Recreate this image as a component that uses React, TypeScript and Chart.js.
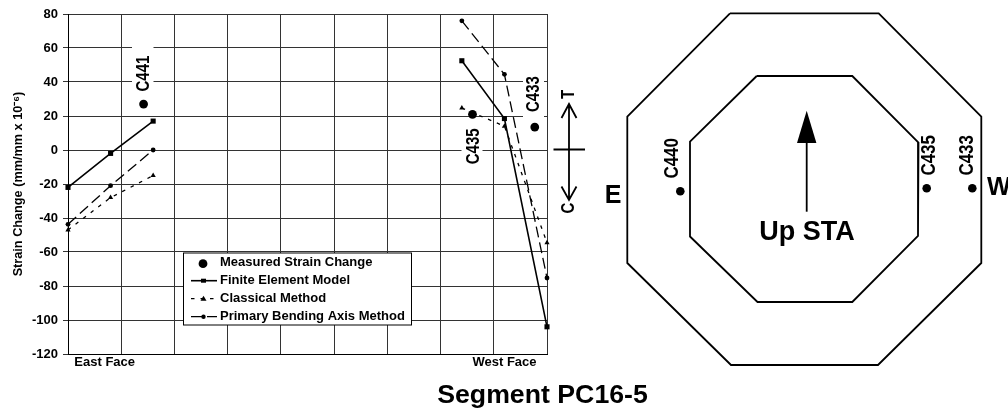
import React, { useEffect, useRef } from "react";
import { Chart, registerables } from "chart.js";

Chart.register(...registerables);

const FONT = "'Liberation Sans', Arial, sans-serif";

const yTicks = [80, 60, 40, 20, 0, -20, -40, -60, -80, -100, -120];
const faceX = [0, 0.8, 1.6, 4.5, 7.4, 8.2, 9];
const finiteElement = [-22, -2, 17, null, 52.5, 18.5, -104];
const classical = [-47, -28, -15, null, 24.7, 14, -54.5];
const primaryBending = [-43.7, -21, 0, null, 76, 44.5, -75.3];
const measuredX = [1.42, 7.6, 8.77];
const measuredY = [27, 21, 13.5];
const measuredNames = ["C441", "C435", "C433"];
const seriesNames = [
  "Measured Strain Change",
  "Finite Element Model",
  "Classical Method",
  "Primary Bending Axis Method",
];

const outerOctagonX = [130, 278.7, 381.3, 381.3, 278, 131, 27.3, 27.3, 130];
const outerOctagonY = [13.3, 13.3, 116.7, 263, 365, 365, 263, 116.7, 13.3];
const innerOctagonX = [156.7, 252.3, 318.5, 318, 252.3, 157.5, 90, 90, 156.7];
const innerOctagonY = [76, 76, 142.5, 236, 302, 302, 236.5, 141.7, 76];
const gaugeX = [80.3, 326.7, 372.3];
const gaugeY = [191.3, 188.3, 188.3];
const gaugeNames = ["C440", "C435", "C433"];
const upArrowX = [206.7, 206.7];
const upArrowY = [211.7, 143];

const points = (xs: number[], ys: (number | null)[]) =>
  xs.map((x, i) => ({ x, y: ys[i] }));

const labelPlacement = [
  { dx: 0, dy: -30.5, box: [132, 45, 21.5, 50] },
  { dx: 1.5, dy: 32, box: [461.5, 125, 21, 43] },
  { dx: -1, dy: -33, box: [523, 72, 21, 46] },
];

const rotated = (ctx: any, text: string, x: number, y: number, font: string) => {
  ctx.save();
  ctx.translate(x, y);
  ctx.rotate(-Math.PI / 2);
  ctx.scale(1, 1.2);
  ctx.font = font;
  ctx.fillStyle = "#000";
  ctx.textAlign = "center";
  ctx.textBaseline = "middle";
  ctx.fillText(text, 0, 0);
  ctx.restore();
};

const whiteBoxes = {
  id: "whiteBoxes",
  beforeDatasetsDraw(chart: any) {
    const { ctx } = chart;
    ctx.save();
    ctx.fillStyle = "#fff";
    labelPlacement.forEach((p) => ctx.fillRect(p.box[0], p.box[1], p.box[2], p.box[3]));
    ctx.restore();
  },
};

const annotations = {
  id: "annotations",
  afterDatasetsDraw(chart: any) {
    const { ctx, scales } = chart;
    const sx = scales.x;
    const sy = scales.y;

    measuredNames.forEach((name, i) => {
      rotated(
        ctx,
        name,
        sx.getPixelForValue(measuredX[i]) + labelPlacement[i].dx,
        sy.getPixelForValue(measuredY[i]) + labelPlacement[i].dy,
        `bold 15px ${FONT}`
      );
    });

    ctx.save();
    ctx.fillStyle = "#000";
    ctx.font = `bold 13px ${FONT}`;
    ctx.textAlign = "center";
    ctx.textBaseline = "middle";
    ctx.fillText("East Face", 104.7, 362.5);
    ctx.fillText("West Face", 504.5, 362.5);

    ctx.font = `bold 26.7px ${FONT}`;
    ctx.fillText("Segment PC16-5", 542.5, 396);

    // legend
    const lx = 183.5;
    const ly = 253;
    ctx.fillStyle = "#fff";
    ctx.fillRect(lx, ly, 228, 72);
    ctx.strokeStyle = "#000";
    ctx.lineWidth = 1;
    ctx.strokeRect(lx, ly, 228, 72);
    ctx.textAlign = "left";
    ctx.font = `bold 13px ${FONT}`;
    const rows = [262.7, 280.7, 298.7, 316.7];
    seriesNames.forEach((name, i) => {
      ctx.fillStyle = "#000";
      ctx.fillText(name, 220, rows[i]);
      const y = rows[i];
      const ds = chart.data.datasets[i === 0 ? 3 : i - 1];
      ctx.beginPath();
      if (i === 0) {
        ctx.arc(203, y + 1, 4.4, 0, Math.PI * 2);
        ctx.fill();
        return;
      }
      ctx.save();
      ctx.setLineDash(ds.borderDash || []);
      ctx.lineWidth = ds.borderWidth;
      ctx.beginPath();
      ctx.moveTo(191, y);
      ctx.lineTo(217, y);
      ctx.stroke();
      ctx.restore();
      ctx.beginPath();
      if (i === 1) ctx.rect(201, y - 2, 5, 4);
      if (i === 2) {
        ctx.moveTo(203.5, y - 3);
        ctx.lineTo(206.5, y + 2);
        ctx.lineTo(200.5, y + 2);
        ctx.closePath();
      }
      if (i === 3) ctx.arc(203.5, y, 2.2, 0, Math.PI * 2);
      ctx.fill();
    });

    // strain direction arrow
    const y0 = sy.getPixelForValue(0);
    ctx.strokeStyle = "#000";
    ctx.lineWidth = 1.8;
    ctx.beginPath();
    ctx.moveTo(553.5, y0 - 0.5);
    ctx.lineTo(585, y0 - 0.5);
    ctx.moveTo(569, 104);
    ctx.lineTo(569, 200);
    ctx.moveTo(561.5, 118);
    ctx.lineTo(569, 104);
    ctx.lineTo(576.5, 118);
    ctx.moveTo(561.5, 186.5);
    ctx.lineTo(569, 200);
    ctx.lineTo(576.5, 186.5);
    ctx.stroke();
    ctx.restore();
    rotated(ctx, "T", 569, 94.5, `bold 15px ${FONT}`);
    rotated(ctx, "C", 569, 208, `bold 15px ${FONT}`);
  },
};

const diagramText = {
  id: "diagramText",
  afterDatasetsDraw(chart: any) {
    const { ctx, scales } = chart;
    const gaugeLabelX = [-7.6, 2.3, -5];
    gaugeNames.forEach((name, i) => {
      rotated(
        ctx,
        name,
        scales.x.getPixelForValue(gaugeX[i]) + gaugeLabelX[i],
        scales.y.getPixelForValue(gaugeY[i]) - 33,
        `bold 17px ${FONT}`
      );
    });
    ctx.save();
    ctx.fillStyle = "#000";
    ctx.textAlign = "center";
    ctx.textBaseline = "middle";
    ctx.font = `bold 27px ${FONT}`;
    ctx.fillText("Up STA", 207, 233);
    ctx.font = `bold 25px ${FONT}`;
    ctx.fillText("E", 13, 196);
    ctx.textAlign = "left";
    ctx.fillText("W", 387, 188);
    const x = scales.x.getPixelForValue(upArrowX[0]);
    const tip = scales.y.getPixelForValue(110.7);
    const base = scales.y.getPixelForValue(upArrowY[1]);
    ctx.beginPath();
    ctx.moveTo(x, tip);
    ctx.lineTo(x + 9.7, base);
    ctx.lineTo(x - 9.7, base);
    ctx.closePath();
    ctx.fill();
    ctx.restore();
  },
};

export default function App() {
  const mainRef = useRef<HTMLCanvasElement>(null);
  const diagramRef = useRef<HTMLCanvasElement>(null);

  useEffect(() => {
    const main = new Chart(mainRef.current!, {
      type: "scatter",
      data: {
        datasets: [
          {
            label: seriesNames[1],
            data: points(faceX, finiteElement),
            showLine: true,
            borderColor: "#000",
            backgroundColor: "#000",
            borderWidth: 1.6,
            pointStyle: "rect",
            pointRadius: 3.6,
            pointBorderWidth: 0,
            clip: false,
          },
          {
            label: seriesNames[2],
            data: points(faceX, classical),
            showLine: true,
            borderColor: "#000",
            backgroundColor: "#000",
            borderWidth: 1.3,
            borderDash: [3.5, 6],
            pointStyle: "triangle",
            pointRadius: 3,
            pointBorderWidth: 0,
            clip: false,
          },
          {
            label: seriesNames[3],
            data: points(faceX, primaryBending),
            showLine: true,
            borderColor: "#000",
            backgroundColor: "#000",
            borderWidth: 1.3,
            borderDash: [11, 5],
            pointStyle: "circle",
            pointRadius: 2.4,
            pointBorderWidth: 0,
            clip: false,
          },
          {
            label: seriesNames[0],
            data: points(measuredX, measuredY),
            showLine: false,
            backgroundColor: "#000",
            borderColor: "#000",
            pointStyle: "circle",
            pointRadius: 4.4,
            pointBorderWidth: 0,
            clip: false,
          },
        ],
      },
      options: {
        responsive: false,
        animation: false,
        layout: { autoPadding: false, padding: { left: 0, right: 461, top: 14, bottom: 59 } },
        plugins: { legend: { display: false }, tooltip: { enabled: false } },
        scales: {
          x: {
            type: "linear",
            min: 0,
            max: 9,
            border: { color: "#000", width: 1 },
            grid: { color: "#333", lineWidth: 1, drawTicks: false },
            ticks: { display: false, stepSize: 1 },
          },
          y: {
            type: "linear",
            min: -120,
            max: 80,
            afterFit(scale: any) {
              scale.width = 68;
            },
            afterBuildTicks(scale: any) {
              scale.ticks = yTicks.map((value) => ({ value }));
            },
            border: { color: "#000", width: 1 },
            grid: { color: "#333", lineWidth: 1, tickLength: 5 },
            ticks: {
              color: "#000",
              padding: 5,
              font: { family: FONT, size: 13, weight: "bold" },
            },
            title: {
              display: true,
              text: "Strain Change (mm/mm x 10⁻⁶)",
              color: "#000",
              font: { family: FONT, size: 12.7, weight: "bold" },
              padding: { top: 11, bottom: 0 },
            },
          },
        },
      },
      plugins: [whiteBoxes, annotations],
    } as any);

    const line = (label: string, xs: number[], ys: number[], width: number) => ({
      label,
      data: points(xs, ys),
      showLine: true,
      borderColor: "#000",
      backgroundColor: "#000",
      borderWidth: width,
      pointRadius: 0,
      clip: false,
    });

    const diagram = new Chart(diagramRef.current!, {
      type: "scatter",
      data: {
        datasets: [
          line("Outer section", outerOctagonX, outerOctagonY, 1.8),
          line("Inner section", innerOctagonX, innerOctagonY, 1.8),
          line("Up station", upArrowX, upArrowY, 1.8),
          {
            label: "Gauges",
            data: points(gaugeX, gaugeY),
            showLine: false,
            backgroundColor: "#000",
            pointStyle: "circle",
            pointRadius: 4.3,
            pointBorderWidth: 0,
            clip: false,
          },
        ],
      },
      options: {
        responsive: false,
        animation: false,
        layout: { autoPadding: false },
        plugins: { legend: { display: false }, tooltip: { enabled: false } },
        scales: {
          x: { type: "linear", min: 0, max: 408, display: false },
          y: { type: "linear", min: 0, max: 413, reverse: true, display: false },
        },
      },
      plugins: [diagramText],
    } as any);

    return () => {
      main.destroy();
      diagram.destroy();
    };
  }, []);

  return (
    <div style={{ position: "fixed", left: 0, top: 0, width: 1008, height: 413, background: "#fff", overflow: "hidden" }}>
      <canvas ref={mainRef} width={1008} height={413} style={{ position: "absolute", left: 0, top: 0, display: "block" }} />
      <canvas ref={diagramRef} width={408} height={413} style={{ position: "absolute", left: 600, top: 0, display: "block" }} />
    </div>
  );
}
